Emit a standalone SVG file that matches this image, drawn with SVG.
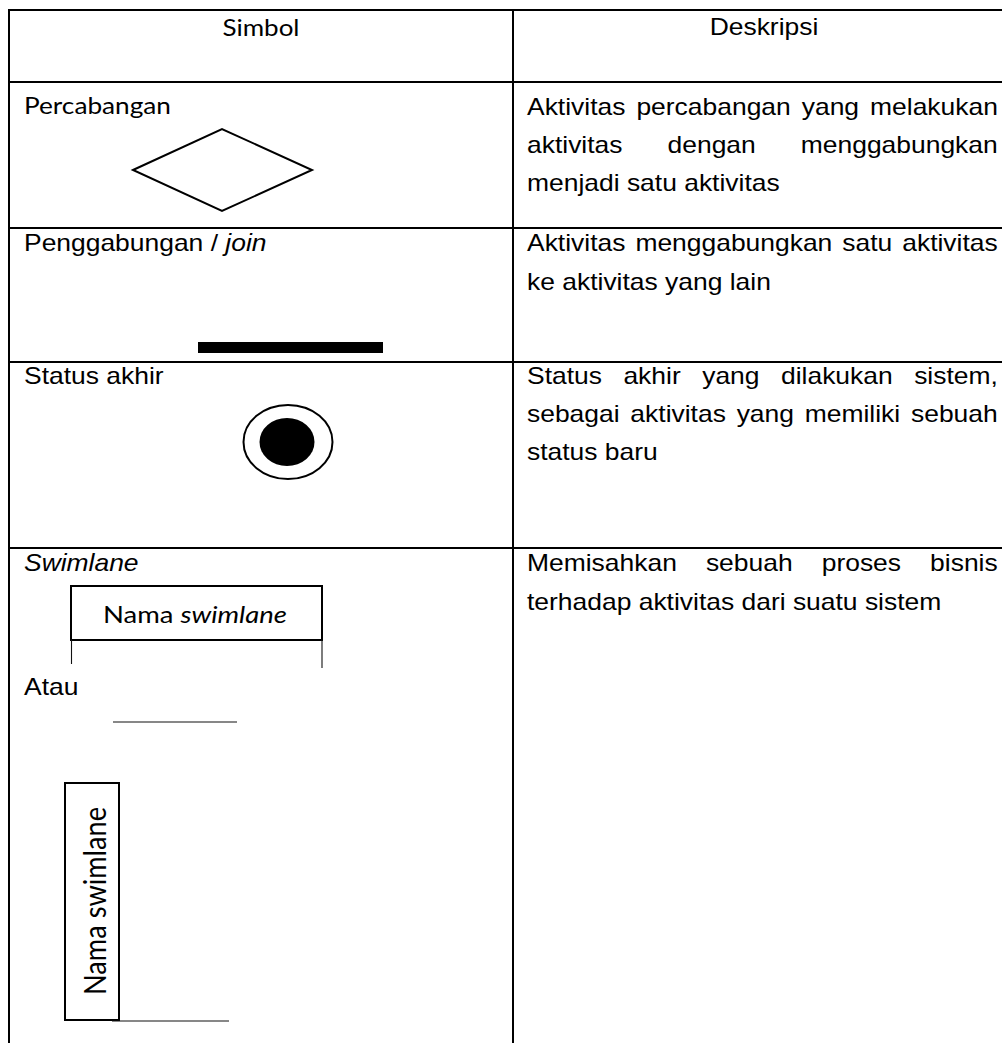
<svg xmlns="http://www.w3.org/2000/svg" width="1002" height="1043" viewBox="0 0 1002 1043">
<style>
.t{font-family:"Liberation Sans",Arial,sans-serif;font-size:23px;fill:#000;font-kerning:none}
.c{font-family:Lato,Carlito,"Open Sans",sans-serif;font-size:24px;fill:#000}
.i{font-style:italic}
.grid{stroke:#000;stroke-width:2;fill:none}
.shape{stroke:#000;stroke-width:2;fill:#fff}
.thin{stroke:#111;stroke-width:1.1;fill:none}
</style>
<rect x="0" y="0" width="1002" height="1043" fill="#fff"/>
<g id="table-grid" class="grid">
<line x1="8" y1="10" x2="1002" y2="10"/>
<line x1="9" y1="10" x2="9" y2="1043"/>
<line x1="513" y1="10" x2="513" y2="1043"/>
<line x1="9" y1="82" x2="1002" y2="82"/>
<line x1="9" y1="228" x2="1002" y2="228"/>
<line x1="9" y1="362" x2="1002" y2="362"/>
<line x1="9" y1="548" x2="1002" y2="548"/>
</g>
<g id="connectors"></g>
<g id="header">
<text class="c" x="261" y="36" text-anchor="middle" textLength="77" lengthAdjust="spacingAndGlyphs">Simbol</text>
<text class="t" transform="translate(764 35) scale(1.15 1)" text-anchor="middle">Deskripsi</text>
</g>
<g id="row-percabangan">
<text class="c" x="24" y="114" textLength="147" lengthAdjust="spacingAndGlyphs">Percabangan</text>
<polygon class="shape" points="133,170 222,129 312,170 222,211" stroke-width="1.8"/>
<text class="t" transform="translate(527 115) scale(1.15 1)" style="word-spacing:3.2px">Aktivitas percabangan yang melakukan</text>
<text class="t" transform="translate(527 153) scale(1.15 1)" style="word-spacing:32.8px">aktivitas dengan menggabungkan</text>
<text class="t" transform="translate(527 191) scale(1.15 1)">menjadi satu aktivitas</text>
</g>
<g id="row-join">
<text class="t" transform="translate(24 251) scale(1.15 1)">Penggabungan / <tspan class="i">join</tspan></text>
<rect x="198" y="342" width="185" height="11" fill="#000"/>
<text class="t" transform="translate(527 251) scale(1.15 1)" style="word-spacing:2.3px">Aktivitas menggabungkan satu aktivitas</text>
<text class="t" transform="translate(527 290) scale(1.15 1)">ke aktivitas yang lain</text>
</g>
<g id="row-status-akhir">
<text class="t" transform="translate(24 384) scale(1.15 1)">Status akhir</text>
<ellipse class="shape" cx="288" cy="442" rx="44.5" ry="37"/>
<ellipse cx="287" cy="442" rx="27.5" ry="24" fill="#000"/>
<text class="t" transform="translate(527 384) scale(1.15 1)" style="word-spacing:12.3px">Status akhir yang dilakukan sistem,</text>
<text class="t" transform="translate(527 422) scale(1.15 1)" style="word-spacing:3px">sebagai aktivitas yang memiliki sebuah</text>
<text class="t" transform="translate(527 460) scale(1.15 1)">status baru</text>
</g>
<g id="row-swimlane">
<text class="t i" transform="translate(24 571) scale(1.15 1)">Swimlane</text>
<rect x="71" y="586" width="251" height="54" fill="#fff" stroke="#000" stroke-width="2"/>
<text class="c" x="103" y="623" textLength="184" lengthAdjust="spacingAndGlyphs">Nama <tspan class="i">swimlane</tspan></text>
<line class="thin" x1="71.5" y1="640" x2="71.5" y2="664"/>
<line class="thin" x1="322" y1="640" x2="322" y2="668"/>
<text class="t" transform="translate(24 695) scale(1.15 1)">Atau</text>
<line class="thin" x1="113" y1="722" x2="237" y2="722"/>
<rect x="65" y="783" width="54" height="237" fill="#fff" stroke="#000" stroke-width="2"/>
<text class="c" transform="translate(106 901) scale(1.12 1) rotate(-90)" text-anchor="middle" textLength="188" lengthAdjust="spacingAndGlyphs" style="font-size:27px">Nama swimlane</text>
<line class="thin" x1="112" y1="1021" x2="229" y2="1021"/>
<text class="t" transform="translate(527 571) scale(1.15 1)" style="word-spacing:18.9px">Memisahkan sebuah proses bisnis</text>
<text class="t" transform="translate(527 610) scale(1.15 1)">terhadap aktivitas dari suatu sistem</text>
</g>
</svg>
